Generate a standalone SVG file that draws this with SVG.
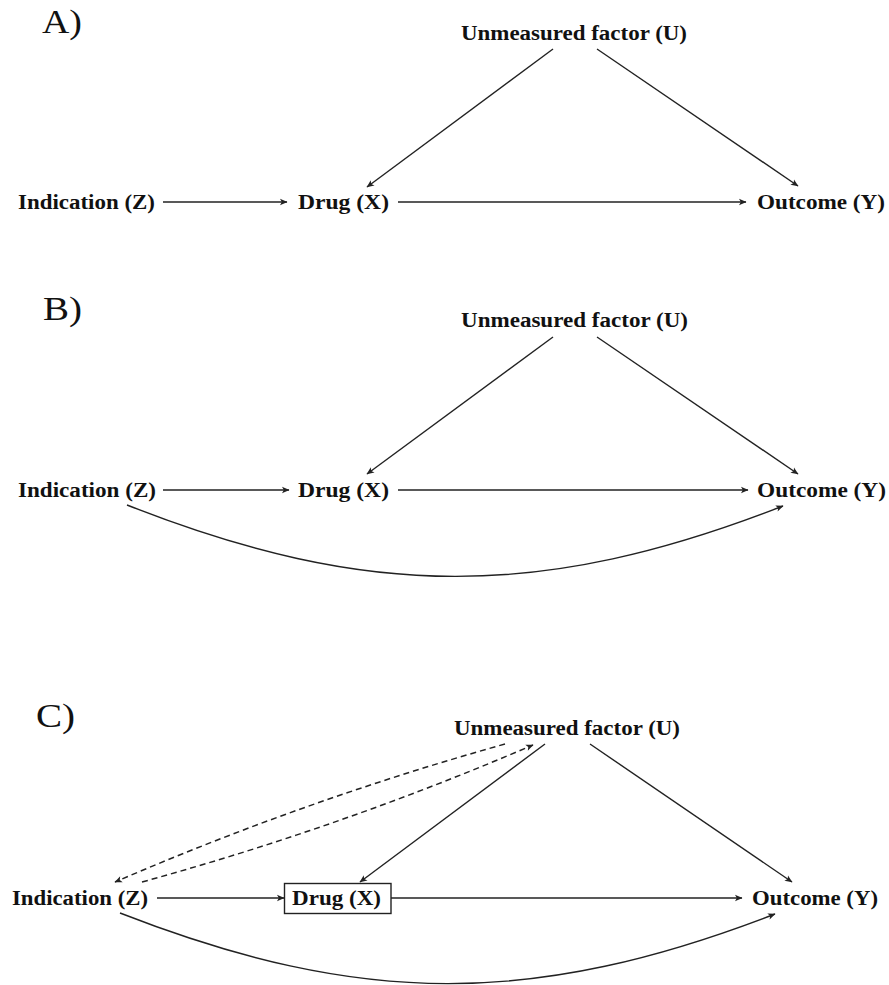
<svg xmlns="http://www.w3.org/2000/svg" width="889" height="985" viewBox="0 0 889 985">
<style>
  .lbl { font-family: "Liberation Serif", "Times New Roman", serif; font-size: 34px; fill: #111; }
  .nt { font-family: "Liberation Serif", "Times New Roman", serif; font-size: 20px; font-weight: bold; fill: #111; }
  .e { fill: none; stroke: #222; stroke-width: 1.4; marker-end: url(#ah); }
  .d { fill: none; stroke: #222; stroke-width: 1.5; stroke-dasharray: 6 4; marker-end: url(#ah); }
  .box { fill: #fff; stroke: #222; stroke-width: 1.4; }
</style>
<defs>
  <marker id="ah" viewBox="-8 -4 9 8" refX="0" refY="0" markerWidth="9" markerHeight="8" markerUnits="userSpaceOnUse" orient="auto">
    <path d="M0.5,0 L-7,-3.2 L-5.2,0 L-7,3.2 Z" fill="#222"/>
  </marker>
</defs>
<rect width="889" height="985" fill="#fff"/>

<!-- Panel A -->
<text class="lbl" x="42" y="33" textLength="40" lengthAdjust="spacingAndGlyphs">A)</text>
<g id="A_U"><text class="nt" x="461" y="40" textLength="226" lengthAdjust="spacingAndGlyphs">Unmeasured factor (U)</text></g>
<g id="A_Z"><text class="nt" x="18" y="209" textLength="137" lengthAdjust="spacingAndGlyphs">Indication (Z)</text></g>
<g id="A_X"><text class="nt" x="298" y="209" textLength="91" lengthAdjust="spacingAndGlyphs">Drug (X)</text></g>
<g id="A_Y"><text class="nt" x="757" y="209" textLength="128" lengthAdjust="spacingAndGlyphs">Outcome (Y)</text></g>

<!-- Panel B -->
<text class="lbl" x="43" y="320" textLength="39" lengthAdjust="spacingAndGlyphs">B)</text>
<g id="B_U"><text class="nt" x="461" y="327" textLength="227" lengthAdjust="spacingAndGlyphs">Unmeasured factor (U)</text></g>
<g id="B_Z"><text class="nt" x="18" y="497" textLength="138" lengthAdjust="spacingAndGlyphs">Indication (Z)</text></g>
<g id="B_X"><text class="nt" x="298" y="497" textLength="91" lengthAdjust="spacingAndGlyphs">Drug (X)</text></g>
<g id="B_Y"><text class="nt" x="757" y="497" textLength="129" lengthAdjust="spacingAndGlyphs">Outcome (Y)</text></g>

<!-- Panel C -->
<text class="lbl" x="36" y="727" textLength="39" lengthAdjust="spacingAndGlyphs">C)</text>
<g id="C_U"><text class="nt" x="454" y="735" textLength="226" lengthAdjust="spacingAndGlyphs">Unmeasured factor (U)</text></g>
<g id="C_Z"><text class="nt" x="12" y="905" textLength="136" lengthAdjust="spacingAndGlyphs">Indication (Z)</text></g>
<g id="C_X"><rect class="box" x="284.5" y="883.5" width="106.5" height="30"/><text class="nt" x="292" y="905" textLength="89" lengthAdjust="spacingAndGlyphs">Drug (X)</text></g>
<g id="C_Y"><text class="nt" x="752" y="905" textLength="126" lengthAdjust="spacingAndGlyphs">Outcome (Y)</text></g>

<g id="connectors">
  <!-- A -->
  <path class="e" d="M163,202 H287"/>
  <path class="e" d="M398,202 H746"/>
  <path class="e" d="M553,49 L367,187"/>
  <path class="e" d="M597,49 L798,186"/>
  <!-- B -->
  <path class="e" d="M163,490 H289"/>
  <path class="e" d="M398,490 H748"/>
  <path class="e" d="M553,337 L367,474"/>
  <path class="e" d="M597,337 L798,474"/>
  <path class="e" d="M127,505 C368,600 542,600 783,506"/>
  <!-- C -->
  <path class="e" d="M157,898 H284"/>
  <path class="e" d="M391,898 H742"/>
  <path class="e" d="M545,744 L360,882"/>
  <path class="e" d="M590,744 L792,882"/>
  <path class="e" d="M120,913 C361,1007 534,1007 775,914"/>
  <path class="d" d="M505,744 Q305,800 115,882"/>
  <path class="d" d="M142,882 Q342,827 533,745"/>
</g>
</svg>
